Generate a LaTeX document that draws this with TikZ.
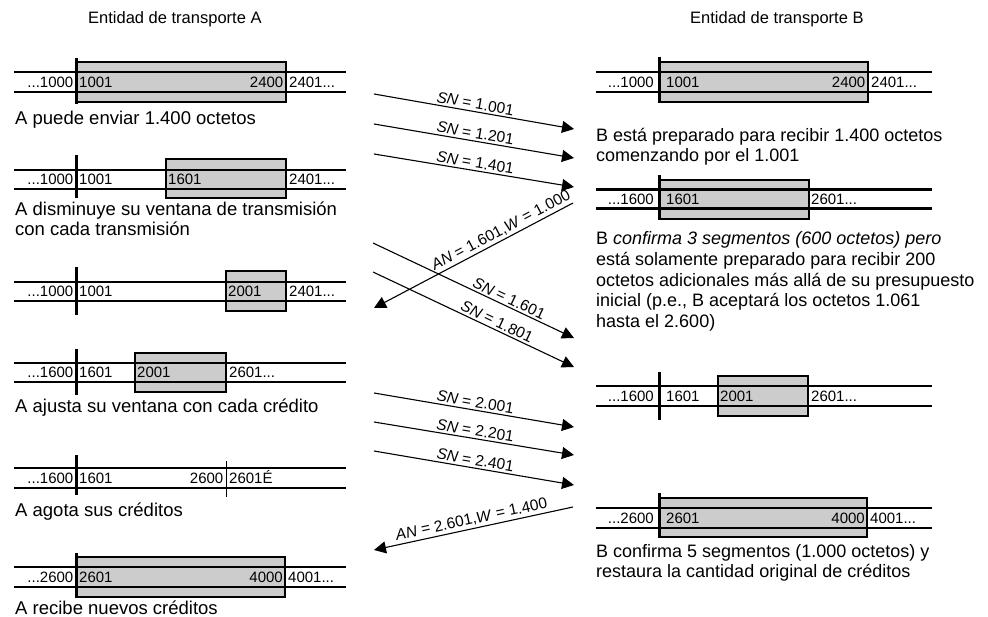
\documentclass[tikz,border=0pt]{standalone}
\usepackage{fontspec}
\setmainfont{Liberation Sans}
\usetikzlibrary{arrows.meta}
\newcommand{\numf}{\fontsize{15}{18}\selectfont}
\newcommand{\capf}{\fontsize{18.5}{20.7}\selectfont}
\newcommand{\capr}{\fontsize{18}{20.7}\selectfont}
\newcommand{\labf}{\fontsize{15.5}{18}\selectfont}
\newcommand{\headf}{\fontsize{16.5}{20}\selectfont}
\begin{document}
\begin{tikzpicture}[x=1pt,y=-1pt,
  track/.style={line width=2.8pt},
  divider/.style={line width=3pt},
  thindiv/.style={line width=0.8pt},
  winfill/.style={fill=black!20},
  winedge/.style={draw, line width=1.1pt},
  numl/.style={font=\numf, inner sep=0pt, anchor=base east},
  numr/.style={font=\numf, inner sep=0pt, anchor=base west},
  capt/.style={font=\capf, inner sep=0pt, anchor=base west},
  captr/.style={font=\capr, inner sep=0pt, anchor=base west},
  head/.style={font=\headf, inner sep=0pt, anchor=base west},
  msg/.style={line width=1.1pt, -{Triangle[length=12pt,width=12pt]}},
  lab/.style={font=\labf, sloped, above, inner sep=2pt}]
\useasboundingbox (0,0) rectangle (988,617);

% headers
\node[head] (hA) at (88,24) {Entidad de transporte A};
\node[head] (hB) at (690,24) {Entidad de transporte B};

% ---------- Left strip 1
\fill[winfill] (76,62) rectangle (286,102);
\draw[track] (14,72) -- (346,72);
\draw[track] (14,92) -- (346,92);
\draw[winedge] (76,62) rectangle (286,102);
\draw[divider] (76,58) -- (76,104);
\node[numl] (l1a) at (73.5,87.5) {...1000};
\node[numr] (l1b) at (79,87.5) {1001};
\node[numl] (l1c) at (283.5,87.5) {2400};
\node[numr] (l1d) at (289,87.5) {2401...};
\node[capt] (c1) at (15,125) {A puede enviar 1.400 octetos};

% ---------- Left strip 2
\fill[winfill] (166,159) rectangle (286,198);
\draw[track] (14,170) -- (346,170);
\draw[track] (14,189) -- (346,189);
\draw[winedge] (166,159) rectangle (286,198);
\draw[divider] (76,155) -- (76,198);
\node[numl] (l2a) at (73.5,185) {...1000};
\node[numr] (l2b) at (79,185) {1001};
\node[numr] (l2c) at (168,185) {1601};
\node[numr] (l2d) at (289,185) {2401...};
\node[capt] (c2a) at (15,216) {A disminuye su ventana de transmisión};
\node[capt] (c2b) at (15,236) {con cada transmisión};

% ---------- Left strip 3
\fill[winfill] (226,271) rectangle (286,311);
\draw[track] (14,282) -- (346,282);
\draw[track] (14,301) -- (346,301);
\draw[winedge] (226,271) rectangle (286,311);
\draw[divider] (76,267) -- (76,315);
\node[numl] (l3a) at (73.5,297) {...1000};
\node[numr] (l3b) at (79,297) {1001};
\node[numr] (l3c) at (228,297) {2001};
\node[numr] (l3d) at (289,297) {2401...};

% ---------- Left strip 4
\fill[winfill] (135,353) rectangle (226,392);
\draw[track] (14,363) -- (346,363);
\draw[track] (14,382) -- (346,382);
\draw[winedge] (135,353) rectangle (226,392);
\draw[divider] (76,349) -- (76,395);
\node[numl] (l4a) at (73.5,378) {...1600};
\node[numr] (l4b) at (79,378) {1601};
\node[numr] (l4c) at (137,378) {2001};
\node[numr] (l4d) at (229,378) {2601...};
\node[capt] (c4) at (15,413) {A ajusta su ventana con cada crédito};

% ---------- Left strip 5
\draw[track] (14,468) -- (346,468);
\draw[track] (14,488) -- (346,488);
\draw[divider] (76,455) -- (76,495);
\draw[thindiv] (226,461) -- (226,497);
\node[numl] (l5a) at (73.5,483.5) {...1600};
\node[numr] (l5b) at (79,483.5) {1601};
\node[numl] (l5c) at (223.5,483.5) {2600};
\node[numr] (l5d) at (229,483.5) {2601É};
\node[capt] (c5) at (15,516) {A agota sus créditos};

% ---------- Left strip 6
\fill[winfill] (76,557) rectangle (285,597);
\draw[track] (14,567) -- (346,567);
\draw[track] (14,587) -- (346,587);
\draw[winedge] (76,557) rectangle (285,597);
\draw[divider] (76,553) -- (76,598);
\node[numl] (l6a) at (73.5,582.5) {...2600};
\node[numr] (l6b) at (79,582.5) {2601};
\node[numl] (l6c) at (283,582.5) {4000};
\node[numr] (l6d) at (288,582.5) {4001...};
\node[capt] (c6) at (15,614) {A recibe nuevos créditos};

% ---------- Right strip 1
\fill[winfill] (659,62) rectangle (868,102);
\draw[track] (596,72) -- (932,72);
\draw[track] (596,92) -- (932,92);
\draw[winedge] (659,62) rectangle (868,102);
\draw[divider] (659,57) -- (659,103);
\node[numl] (r1a) at (654,87.5) {...1000};
\node[numr] (r1b) at (666,87.5) {1001};
\node[numl] (r1c) at (865.5,87.5) {2400};
\node[numr] (r1d) at (871,87.5) {2401...};
\node[captr] (rc1a) at (596,142) {B está preparado para recibir 1.400 octetos};
\node[captr] (rc1b) at (596,162) {comenzando por el 1.001};

% ---------- Right strip 2
\fill[winfill] (659,180) rectangle (809,219);
\draw[track] (596,189.5) -- (932,189.5);
\draw[track] (596,208.5) -- (932,208.5);
\draw[winedge] (659,180) rectangle (809,219);
\draw[divider] (659,175) -- (659,220);
\node[numl] (r2a) at (654,204.5) {...1600};
\node[numr] (r2b) at (666,204.5) {1601};
\node[numr] (r2c) at (811,204.5) {2601...};
\node[captr] (rc2a) at (596,245) {B \textit{confirma 3 segmentos (600 octetos) pero}};
\node[captr] (rc2b) at (596,266) {está solamente preparado para recibir 200};
\node[captr] (rc2c) at (596,287) {octetos adicionales más allá de su presupuesto};
\node[captr] (rc2d) at (596,307) {inicial (p.e., B aceptará los octetos 1.061};
\node[captr] (rc2e) at (596,328) {hasta el 2.600)};

% ---------- Right strip 3
\fill[winfill] (718,376) rectangle (808,416);
\draw[track] (596,386) -- (932,386);
\draw[track] (596,406) -- (932,406);
\draw[winedge] (718,376) rectangle (808,416);
\draw[divider] (659,372) -- (659,420);
\node[numl] (r3a) at (654,401.5) {...1600};
\node[numr] (r3b) at (666,401.5) {1601};
\node[numr] (r3c) at (720,401.5) {2001};
\node[numr] (r3d) at (811,401.5) {2601...};

% ---------- Right strip 4
\fill[winfill] (659,498) rectangle (867,537);
\draw[track] (596,508) -- (932,508);
\draw[track] (596,528) -- (932,528);
\draw[winedge] (659,498) rectangle (867,537);
\draw[divider] (659,493) -- (659,538);
\node[numl] (r4a) at (654,523.5) {...2600};
\node[numr] (r4b) at (666,523.5) {2601};
\node[numl] (r4c) at (865,523.5) {4000};
\node[numr] (r4d) at (870,523.5) {4001...};
\node[captr] (rc4a) at (596,557) {B confirma 5 segmentos (1.000 octetos) y};
\node[captr] (rc4b) at (596,577.5) {restaura la cantidad original de créditos};

% ---------- messages
\coordinate (s1) at (374,94);   \coordinate (e1) at (574,129);
\coordinate (s2) at (374,124);  \coordinate (e2) at (574,158);
\coordinate (s3) at (374,154);  \coordinate (e3) at (574,187);
\coordinate (s4) at (573,203);  \coordinate (e4) at (374,308);
\coordinate (s5) at (373,243);  \coordinate (e5) at (574,338);
\coordinate (s6) at (373,272);  \coordinate (e6) at (574,367);
\coordinate (s7) at (374,393);  \coordinate (e7) at (574,427);
\coordinate (s8) at (374,422);  \coordinate (e8) at (574,455);
\coordinate (s9) at (374,451);  \coordinate (e9) at (574,485);
\coordinate (s10) at (573,507); \coordinate (e10) at (374,550);

\draw[msg] (s1) -- node[lab] (m1) {\textit{SN} = 1.001} (e1);
\draw[msg] (s2) -- node[lab] (m2) {\textit{SN} = 1.201} (e2);
\draw[msg] (s3) -- node[lab] (m3) {\textit{SN} = 1.401} (e3);
\draw[msg] (s4) -- node[lab, pos=0.34] (m4) {\textit{AN} = 1.601,\textit{W} = 1.000} (e4);
\draw[msg] (s5) -- node[lab, pos=0.66] (m5) {\textit{SN} = 1.601} (e5);
\draw[msg] (s6) -- node[lab, pos=0.6] (m6) {\textit{SN} = 1.801} (e6);
\draw[msg] (s7) -- node[lab] (m7) {\textit{SN} = 2.001} (e7);
\draw[msg] (s8) -- node[lab] (m8) {\textit{SN} = 2.201} (e8);
\draw[msg] (s9) -- node[lab] (m9) {\textit{SN} = 2.401} (e9);
\draw[msg] (s10) -- node[lab] (m10) {\textit{AN} = 2.601,\textit{W} = 1.400} (e10);
\end{tikzpicture}
\end{document}
